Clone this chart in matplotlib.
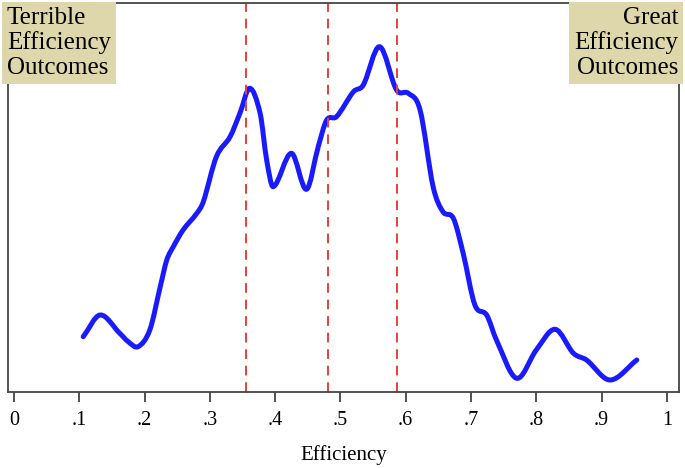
import numpy as np
import matplotlib
matplotlib.use("Agg")
import matplotlib.pyplot as plt
from matplotlib.path import Path
from matplotlib.patches import PathPatch

# density curve
eff = [0.106, 0.132, 0.162, 0.175, 0.190, 0.208, 0.224, 0.234, 0.244, 0.259,
       0.280, 0.290, 0.310, 0.331, 0.346, 0.361, 0.377, 0.387, 0.397, 0.425,
       0.448, 0.466, 0.479, 0.494, 0.520, 0.535, 0.560, 0.586, 0.604, 0.622,
       0.642, 0.657, 0.673, 0.688, 0.706, 0.724, 0.739, 0.770, 0.800, 0.829,
       0.857, 0.877, 0.913, 0.954]
dens = [0.553, 0.770, 0.587, 0.503, 0.453, 0.620, 1.053, 1.320, 1.453, 1.620,
        1.787, 1.903, 2.353, 2.553, 2.787, 3.037, 2.787, 2.320, 2.053, 2.387,
        2.027, 2.453, 2.720, 2.753, 3.003, 3.070, 3.453, 3.020, 2.987, 2.820,
        2.053, 1.803, 1.737, 1.387, 0.870, 0.770, 0.520, 0.137, 0.420, 0.627,
        0.387, 0.320, 0.120, 0.320]

# vertical reference lines
cutoffs = [0.355, 0.481, 0.587]

tick_vals = [0, 0.1, 0.2, 0.3, 0.4, 0.5, 0.6, 0.7, 0.8, 0.9, 1]
tick_labels = ["0", ".1", ".2", ".3", ".4", ".5", ".6", ".7", ".8", ".9", "1"]

plt.rcParams['font.family'] = ['Liberation Serif', 'DejaVu Serif']

fig = plt.figure(figsize=(6.85, 4.68), dpi=100)
ax = fig.add_axes([0.0117, 0.1624, 0.9793, 0.8312])


def smooth_path(xs, ys):
    # hermite curve through the points (slopes from neighbours), as bezier segments
    x = np.asarray(xs, float)
    y = np.asarray(ys, float)
    n = len(x)
    m = np.empty(n)
    m[1:-1] = (y[2:] - y[:-2]) / (x[2:] - x[:-2])
    m[0] = (y[1] - y[0]) / (x[1] - x[0])
    m[-1] = (y[-1] - y[-2]) / (x[-1] - x[-2])
    verts = [(x[0], y[0])]
    codes = [Path.MOVETO]
    for i in range(n - 1):
        h = x[i + 1] - x[i]
        verts += [(x[i] + h / 3, y[i] + m[i] * h / 3),
                  (x[i + 1] - h / 3, y[i + 1] - m[i + 1] * h / 3),
                  (x[i + 1], y[i + 1])]
        codes += [Path.CURVE4] * 3
    return Path(verts, codes)


for c in cutoffs:
    ax.axvline(c, color='#e8403a', lw=1.4, dashes=(5, 3.5))

ax.add_patch(PathPatch(smooth_path(eff, dens), fill=False, ec='#1a1aff',
                       lw=3.6, capstyle='round', joinstyle='round'))

ax.set_xlim(-0.0092, 1.0184)
ax.set_ylim(0, 3.89)
ax.set_yticks([])
ax.set_xticks(tick_vals)
ax.set_xticklabels(tick_labels, fontsize=14.5)
ax.tick_params(axis='x', direction='out', length=7, width=1.2, color='#333333', pad=7)
for s in ax.spines.values():
    s.set_color('#444444')
    s.set_linewidth(1.3)
ax.set_xlabel("Efficiency", fontsize=15, labelpad=10.5)

box = dict(boxstyle='square,pad=0.2', fc='#ddd7ab', ec='none')
fig.text(0.010, 0.986, "Terrible\nEfficiency\nOutcomes", fontsize=18, va='top',
         ha='left', linespacing=1.15, bbox=box)
fig.text(0.990, 0.986, "Great\nEfficiency\nOutcomes", fontsize=18, va='top',
         ha='right', multialignment='right', linespacing=1.15, bbox=box)

fig.savefig("out.png", dpi=100)
